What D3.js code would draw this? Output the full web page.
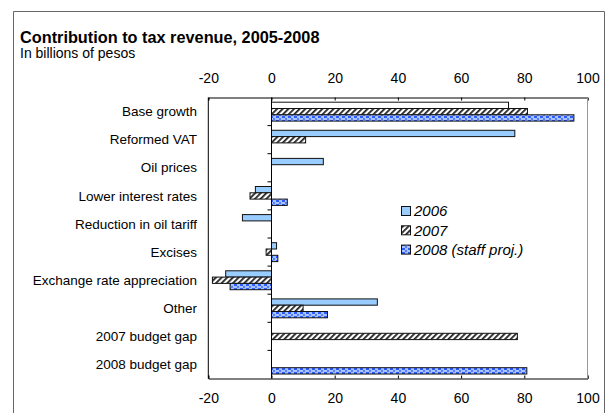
<!DOCTYPE html>
<html>
<head>
<meta charset="utf-8">
<script src="https://cdn.jsdelivr.net/npm/d3@7"></script>
<style>
  html, body { margin: 0; padding: 0; background: #fff; }
  svg { display: block; font-family: "Liberation Sans", Arial, sans-serif; }
</style>
</head>
<body>
<svg id="chart" width="612" height="413"></svg>
<script>
const categories = ["Base growth", "Reformed VAT", "Oil prices", "Lower interest rates",
  "Reduction in oil tariff", "Excises", "Exchange rate appreciation", "Other",
  "2007 budget gap", "2008 budget gap"];
const seriesNames = ["2006", "2007", "2008 (staff proj.)"];
const values2006 = [75, 77, 16.4, -5.1, -9.2, 1.6, -14.5, 33.5, 0, 0];
const values2007 = [81, 10.8, 0, -6.8, 0, -1.7, -18.7, 10, 77.8, 0];
const values2008 = [95.7, 0, 0, 5, 0, 2, -13.1, 17.7, 0, 80.8];
const xTicks = [-20, 0, 20, 40, 60, 80, 100];

(function () {
const svg = d3.select("#chart");
const defs = svg.append("defs");

// hatch pattern for 2007
const hatch = defs.append("pattern").attr("id", "hatch").attr("patternUnits", "userSpaceOnUse")
  .attr("width", 4).attr("height", 4).attr("patternTransform", "rotate(45)");
hatch.append("rect").attr("width", 4).attr("height", 4).attr("fill", "#fff");
hatch.append("rect").attr("width", 1.8).attr("height", 4).attr("fill", "#222");

// dotted pattern for 2008
const dots = defs.append("pattern").attr("id", "dots").attr("patternUnits", "userSpaceOnUse")
  .attr("width", 6).attr("height", 4);
dots.append("rect").attr("width", 6).attr("height", 4).attr("fill", "#a8c4ff");
dots.append("rect").attr("x", 0).attr("y", 0).attr("width", 3).attr("height", 2).attr("fill", "#2d5cff");
dots.append("rect").attr("x", 3).attr("y", 2).attr("width", 2).attr("height", 2).attr("fill", "#5a7dff");

const fills = ["#99ccff", "url(#hatch)", "url(#dots)"];

// outer frame
svg.append("path").attr("d", "M13.5,413 V11.5 H604.5 V413").attr("fill", "none")
  .attr("stroke", "#666").attr("stroke-width", 1);

// title
svg.append("text").attr("x", 20).attr("y", 43).attr("font-size", 16.3).attr("font-weight", "bold")
  .text("Contribution to tax revenue, 2005-2008");
svg.append("text").attr("x", 20).attr("y", 58).attr("font-size", 14)
  .text("In billions of pesos");

const pLeft = 208.3, pRight = 587.5, pTop = 97.5, pBottom = 378.5;
const x = d3.scaleLinear().domain([-20, 100]).range([pLeft, pRight]);
const y = d3.scaleBand().domain(categories).range([pTop, pBottom]).padding(0);
const bw = y.bandwidth();
const ySub = d3.scaleBand().domain(seriesNames).range([bw * 0.167, bw * 0.84]).padding(0);

// axes
const topAxis = d3.axisTop(x).tickValues(xTicks).tickFormat(d => String(d)).tickSize(-3).tickPadding(15);
const gTop = svg.append("g").attr("transform", `translate(0,${pTop})`).call(topAxis);
const botAxis = d3.axisBottom(x).tickValues(xTicks).tickFormat(d => String(d)).tickSize(-3).tickPadding(15);
const gBot = svg.append("g").attr("transform", `translate(0,${pBottom})`).call(botAxis);
[gTop, gBot].forEach(g => {
  g.select(".domain").attr("stroke", "#000");
  g.selectAll(".tick line").attr("stroke", "#000");
  g.selectAll(".tick text").attr("font-size", 14).attr("font-family", "Liberation Sans, Arial, sans-serif").attr("fill", "#000");
});
// left/right frame lines
svg.append("line").attr("x1", pLeft).attr("x2", pLeft).attr("y1", pTop).attr("y2", pBottom).attr("stroke", "#000");
svg.append("line").attr("x1", pRight).attr("x2", pRight).attr("y1", pTop).attr("y2", pBottom).attr("stroke", "#999");

// bars
const allSeries = [values2006, values2007, values2008];
allSeries.forEach((vals, si) => {
  svg.append("g").selectAll("rect").data(categories.map((c, i) => ({ c, v: vals[i], i })).filter(d => d.v !== 0))
    .join("rect")
    .attr("x", d => x(Math.min(0, d.v)))
    .attr("width", d => Math.abs(x(d.v) - x(0)))
    .attr("y", d => y(d.c) + ySub(seriesNames[si]))
    .attr("height", ySub.bandwidth())
    .attr("fill", d => (si === 0 && d.i === 0) ? "#ffffff" : fills[si])
    .attr("stroke", "#111").attr("stroke-width", 1);
});

// category axis at zero
svg.append("line").attr("x1", x(0)).attr("x2", x(0)).attr("y1", pTop).attr("y2", pBottom).attr("stroke", "#000");
svg.append("g").selectAll("line").data(categories.slice(1)).join("line")
  .attr("x1", x(0) - 4).attr("x2", x(0)).attr("y1", d => y(d)).attr("y2", d => y(d)).attr("stroke", "#000");

// category labels
svg.append("g").selectAll("text").data(categories).join("text")
  .attr("x", 197).attr("y", d => y(d) + bw / 2).attr("dy", "0.35em")
  .attr("text-anchor", "end").attr("font-size", 13.5).text(d => d);

// legend
const lg = svg.append("g");
seriesNames.forEach((s, i) => {
  const ly = 211 + i * 19.3;
  lg.append("rect").attr("x", 401.5).attr("y", ly - 4.5).attr("width", 9).attr("height", 9)
    .attr("fill", fills[i]).attr("stroke", "#111");
  lg.append("text").attr("x", 414).attr("y", ly).attr("dy", "0.36em").attr("font-size", 15)
    .attr("font-style", "italic").text(s);
});
})();
</script>
</body>
</html>
